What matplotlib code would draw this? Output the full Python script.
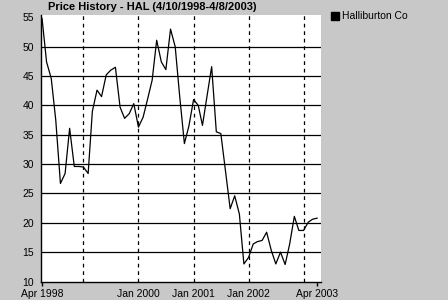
import matplotlib
matplotlib.use('agg')
import matplotlib.pyplot as plt
import pandas as pd
from matplotlib.lines import Line2D

# monthly closing prices, Apr 1998 - Apr 2003
months = pd.date_range('1998-04-01', '2003-04-01', freq='MS')
prices = [
    54.8, 47.4, 44.6, 37.5, 26.7, 28.4, 36.1, 29.6, 29.6,             # 1998
    29.5, 28.4, 39.0, 42.6, 41.5, 45.2, 46.0, 46.5, 39.7, 37.8, 38.6, 40.3,  # 1999
    36.3, 38.0, 41.0, 44.3, 51.1, 47.4, 46.1, 53.0, 50.0, 41.5, 33.5, 36.5,  # 2000
    41.0, 40.0, 36.6, 41.7, 46.6, 35.5, 35.2, 28.8, 22.4, 24.6, 21.5, 13.0,  # 2001
    14.1, 16.4, 16.8, 17.0, 18.4, 15.3, 13.0, 15.0, 12.9, 16.4, 21.1, 18.7,  # 2002
    18.7, 20.1, 20.6, 20.8,                                          # 2003
]
tick_dates = pd.to_datetime(['1998-04-01', '2000-01-01', '2001-01-01', '2002-01-01', '2003-04-01'])
tick_labels = ['Apr 1998', 'Jan 2000', 'Jan 2001', 'Jan 2002', 'Apr 2003']
year_lines = pd.to_datetime(['1999-01-01', '2000-01-01', '2001-01-01', '2002-01-01', '2003-01-01'])
y_ticks = [10, 15, 20, 25, 30, 35, 40, 45, 50, 55]

plt.rcParams['font.family'] = ['Liberation Sans', 'DejaVu Sans']
bg = '#c8c8c8'

fig = plt.figure(figsize=(4.48, 3.0), dpi=100, facecolor=bg)
ax = fig.add_axes([41 / 448, 18 / 300, 280 / 448, 267 / 300])
ax.set_facecolor('white')

ax.plot(months, prices, color='black', lw=0.9, zorder=3)

ax.set_xlim(pd.Timestamp('1998-03-25'), pd.Timestamp('2003-04-27'))
ax.set_ylim(9.92, 55.4)

ax.set_yticks(y_ticks)
ax.tick_params(axis='y', length=0, pad=5, labelsize=7.5)
ax.set_xticks(tick_dates)
ax.set_xticklabels(tick_labels)
ax.tick_params(axis='x', length=3, width=1, pad=2, labelsize=7.5)
for t in ax.xaxis.get_major_ticks()[1:4]:
    t.tick1line.set_visible(False)

ax.yaxis.grid(True, color='black', lw=0.9)
ax.get_ygridlines()[-1].set_visible(False)
ax.get_ygridlines()[0].set_visible(False)
for d in year_lines:
    ax.axvline(d, color='black', lw=0.9, ls=(0, (3, 3)), zorder=1)

for s in ['top', 'right']:
    ax.spines[s].set_visible(False)
for s in ['left', 'bottom']:
    ax.spines[s].set_linewidth(1.0)

fig.text(48 / 448, 1 - 7.5 / 300, 'Price History - HAL (4/10/1998-4/8/2003)',
         fontsize=8, fontweight='bold', ha='left', va='center')

handle = Line2D([], [], color='black', marker='s', ls='none', markersize=6)
fig.legend([handle], ['Halliburton Co'], loc='upper left',
           bbox_to_anchor=(321 / 448, 1 - 3 / 300), frameon=False,
           fontsize=7.5, handletextpad=0.2, handlelength=1.0, borderpad=0.3)

fig.savefig('out.png', dpi=100, facecolor=bg)
